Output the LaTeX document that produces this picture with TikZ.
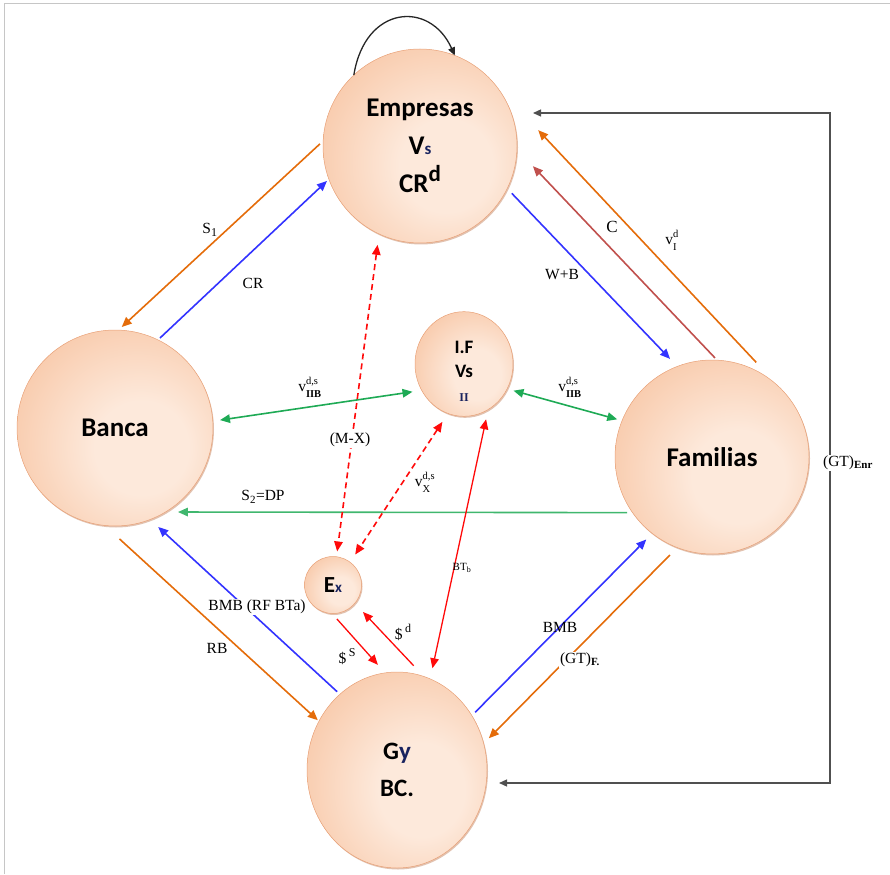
\documentclass[tikz,border=0pt]{standalone}
\usepackage{fontspec}
\setmainfont{Liberation Serif}
\newfontfamily\nodefont{Carlito}
\usetikzlibrary{shapes.geometric,arrows.meta,shadows}

\definecolor{pkedge}{RGB}{244,174,128}
\definecolor{pkcore}{RGB}{253,233,219}
\definecolor{pkline}{RGB}{232,160,118}
\definecolor{pkshade}{RGB}{190,120,80}
\definecolor{flowor}{RGB}{228,108,10}
\definecolor{flowbl}{RGB}{51,51,255}
\definecolor{flowgr}{RGB}{30,170,85}
\definecolor{flowrd}{RGB}{255,10,10}
\definecolor{flowrs}{RGB}{192,80,77}
\definecolor{flowgy}{RGB}{80,80,80}
\definecolor{subnavy}{RGB}{25,35,95}

% peach ball: light core a little right of and below the centre
\pgfdeclareradialshading{peachball}{\pgfpoint{8bp}{-6bp}}{%
  color(0bp)=(pkcore); color(12bp)=(pkcore); color(52bp)=(pkedge); color(80bp)=(pkedge)}

% flow label with a subscript and a superscript
\newcommand\flowlab[3]{#1\ensuremath{^{\raisebox{2pt}{\fontsize{10.5}{10.5}\selectfont #2}}_{\raisebox{-2pt}{\fontsize{10.5}{10.5}\selectfont #3}}}}
\newcommand\lowlab[2]{#1\ensuremath{_{\mbox{\fontsize{11}{11}\selectfont #2}}}}

\begin{document}
\begin{tikzpicture}[x=1pt,y=-1pt,
  >={Triangle[length=10pt,width=8.5pt]},
  ball/.style={ellipse, inner sep=0pt, outer sep=0pt, align=center,
    draw=pkline, line width=0.5pt, shading=peachball,
    font=\nodefont\bfseries,
    drop shadow={shadow xshift=1pt, shadow yshift=-1.5pt, fill=pkshade, opacity=0.45}},
  flowline/.style={line width=1.6pt, ->},
  bothways/.style={line width=1.6pt, <->},
  dashflow/.style={dash pattern=on 6pt off 4pt},
  lab/.style={font=\fontsize{15.5}{17}\selectfont, inner sep=1pt},
  cutlab/.style={lab, fill=white}]
\useasboundingbox (0,0) rectangle (890,874);

% frame edges
\draw[gray!45, line width=1pt] (4,874) -- (4,4) -- (890,4);

% sectors
\node[ball, minimum width=194pt, minimum height=194pt,
      font=\nodefont\bfseries\fontsize{27}{38}\selectfont] (emp) at (420,146)
  {Empresas\\V{\fontsize{17}{17}\selectfont\color{subnavy}s}\\CR\raisebox{0.42em}{\fontsize{23}{23}\selectfont d}};
\node[ball, minimum size=196pt, font=\nodefont\bfseries\fontsize{27}{32}\selectfont] (ban) at (115,428) {Banca};
\node[ball, minimum size=194pt, font=\nodefont\bfseries\fontsize{27}{32}\selectfont] (fam) at (712,457) {Familias};
\node[ball, minimum width=180pt, minimum height=196pt,
      font=\nodefont\bfseries\fontsize{25}{37}\selectfont] (gov) at (397,770)
  {G{\color{subnavy}y}\\BC.};
\node[ball, minimum size=98pt, font=\nodefont\bfseries\fontsize{19}{24}\selectfont] (ifn) at (464,364)
  {\rule{0pt}{26pt}I.F\\Vs\\{\rmfamily\fontsize{12}{12}\selectfont\color{subnavy}II}};
\node[ball, minimum size=57pt, font=\nodefont\bfseries\fontsize{23}{26}\selectfont] (exn) at (333,585)
  {E{\fontsize{15}{15}\selectfont\color{subnavy}x}};

% self loop of the firms
\draw[line width=1.3pt, black!85, -{Triangle[length=8pt,width=7pt]}]
  (emp.133) .. controls (365,5) and (430,0) .. (emp.69);

% firms <-> bank
\draw[flowline, flowor, shorten <=4.3pt, shorten >=4.5pt] (emp.177) -- (ban.88);
\draw[flowline, flowbl, shorten <=2.8pt, shorten >=2.6pt] (ban.64) -- (emp.200);
\node[lab] (lS1) at (210,230) {S\ensuremath{_{\mbox{\fontsize{12}{12}\selectfont 1}}}};
\node[lab] (lCR) at (253,283) {CR};

% firms <-> households
\draw[flowline, flowbl, shorten <=6.7pt, shorten >=10.4pt] (emp.-26) -- (fam.111);
\draw[flowline, flowrs, shorten <=3pt, shorten >=23.2pt] (fam.87) -- (emp.-2);
\draw[flowline, flowor, shorten <=39pt, shorten >=69pt] (fam.43) -- (emp.43);
\node[lab] (lWB) at (562,275) {W+B};
\node[lab, font=\fontsize{17}{17}\selectfont] (lC) at (612,227) {C};
\node[lab] (lVI) at (672,240) {\flowlab{v}{d}{I}};

% investment funds
\draw[bothways, flowgr, shorten <=7.3pt, shorten >=9.3pt] (ban.4) -- (ifn.212);
\draw[bothways, flowgr, shorten <=6.6pt, shorten >=5pt] (ifn.-30) -- (fam.158);
\node[lab] (lVL) at (310,387) {\flowlab{v}{d,s}{\bfseries IIB}};
\node[lab] (lVR) at (570,387) {\flowlab{v}{d,s}{\bfseries IIB}};

% deposits
\draw[flowline, flowgr!85, shorten <=5.5pt, shorten >=12.5pt] (fam.215) -- (ban.-59);
\node[lab] (lS2) at (263,497) {\lowlab{S}{2}=DP};

% external sector
\draw[bothways, flowrd, dashflow, shorten <=11pt, shorten >=5.3pt] (emp.245) -- (exn.83);
\draw[bothways, flowrd, dashflow, shorten <=10.1pt, shorten >=9.2pt] (ifn.252) -- (exn.53);
\node[cutlab] (lMX) at (350,440) {(M-X)};
\node[lab] (lVX) at (425,482) {\flowlab{v}{d,s}{X}};

% government and central bank
\draw[bothways, flowrd, line width=1.3pt, shorten <=10pt, shorten >=10.9pt] (ifn.-62) -- (gov.70);
\node[lab, font=\fontsize{11}{11}\selectfont] (lBT) at (462,568) {BT\ensuremath{_{\mbox{\fontsize{8}{8}\selectfont b}}}};
\draw[flowline, flowrd, line width=1.3pt, shorten <=7.4pt, shorten >=10.8pt] (exn.268) -- (gov.97);
\draw[flowline, flowrd, line width=1.3pt, shorten <=14.8pt, shorten >=11.9pt] (gov.74) -- (exn.-40);
\node[lab] (lDS) at (347,657) {\$\,\raisebox{0.45em}{\fontsize{12}{12}\selectfont S}};
\node[lab] (lDD) at (403,632) {\$\,\raisebox{0.45em}{\fontsize{12}{12}\selectfont d}};

\draw[flowline, flowbl, shorten <=3.8pt, shorten >=11pt] (gov.127) -- (ban.-69);
\node[cutlab] (lBMB1) at (257,607) {BMB (RF BTa)};
\draw[flowline, flowor, shorten <=20pt, shorten >=1.5pt] (ban.264) -- (gov.148);
\node[lab] (lRB) at (217,648) {RB};

\draw[flowline, flowbl, shorten <=4.7pt, shorten >=8.5pt] (gov.36) -- (fam.232);
\node[lab] (lBMB2) at (560,627) {BMB};
\draw[flowline, flowor, shorten <=10.4pt, shorten >=7.4pt] (fam.249) -- (gov.17);
\node[cutlab] (lGTF) at (580,660) {\lowlab{(GT)}{\bfseries F.}};

% transfers loop on the right
\coordinate (gtTop) at (830,113);
\coordinate (gtBot) at (830,783);
\draw[flowgy, line width=1.3pt, {Triangle[length=8pt,width=7pt]}-{Triangle[length=8pt,width=7pt]},
      shorten <=16pt, shorten >=12pt]
  (gtTop -| emp.east) -- (gtTop) -- (gtBot) -- (gtBot -| gov.east);
\node[cutlab] (lGTE) at (848,463) {\lowlab{(GT)}{\bfseries Enr}};
\end{tikzpicture}
\end{document}
